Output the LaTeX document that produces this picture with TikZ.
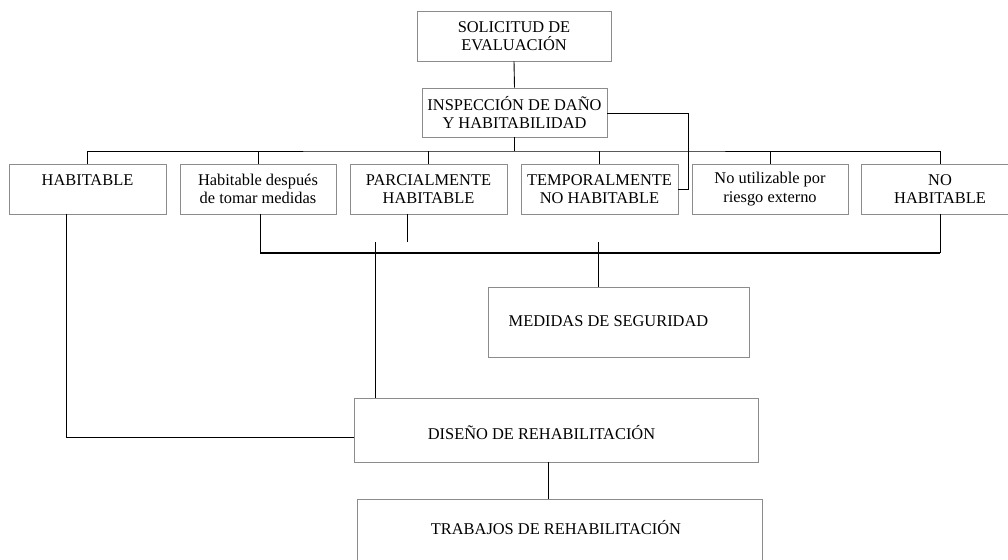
\documentclass[tikz,border=0pt]{standalone}
\usepackage{fontspec}
\setmainfont{Liberation Serif}
\begin{document}
\begin{tikzpicture}[x=1pt,y=-1pt,
  box/.style={draw=black!45,line width=0.9pt,rectangle,inner sep=0pt,align=center,
    font=\fontsize{16.4}{18.5}\selectfont},
  lbox/.style={draw=black!45,line width=0.9pt,rectangle,inner sep=0pt},
  conn/.style={draw=black,line width=0.9pt},
  bold/.style={draw=black,line width=2pt},
  ltext/.style={inner sep=0pt,font=\fontsize{16.4}{18}\selectfont}]
\useasboundingbox (0,0) rectangle (1008,559);
% top boxes
\node[box,minimum width=194pt,minimum height=50pt] (sol) at (514,36) {SOLICITUD DE\\EVALUACIÓN};
\node[box,minimum width=185pt,minimum height=49pt] (ins) at (514.5,112.5) {INSPECCIÓN DE DAÑO\\Y HABITABILIDAD};
% row
\node[box,minimum width=157pt,minimum height=50pt] (b1) at (87.5,189) {HABITABLE\\\mbox{}};
\node[box,minimum width=156pt,minimum height=50pt] (b2) at (258,189) {Habitable después\\de tomar medidas};
\node[box,minimum width=157pt,minimum height=50pt] (b3) at (428.5,189) {PARCIALMENTE\\HABITABLE};
\node[box,minimum width=157pt,minimum height=50pt] (b4) at (599.5,189) {TEMPORALMENTE\\NO HABITABLE};
\node[box,minimum width=156pt,minimum height=50pt] (b5) at (770,189) {No utilizable por\\riesgo externo};
\node[box,minimum width=157pt,minimum height=50pt] (b6) at (940,189) {NO\\HABITABLE};
% lower boxes
\node[lbox,minimum width=261pt,minimum height=70pt] (med) at (618.5,322) {};
\node[ltext] (medt) at (608.5,321) {MEDIDAS DE SEGURIDAD};
\node[lbox,minimum width=404pt,minimum height=64pt] (dis) at (556,430) {};
\node[ltext] (dist) at (541.5,433) {DISEÑO DE REHABILITACIÓN};
\node[lbox,minimum width=405pt,minimum height=70pt] (tra) at (559.5,534) {};
\node[ltext] (trat) at (556,528) {TRABAJOS DE REHABILITACIÓN};
% connectors
\draw[conn] (sol.south) -- (ins.north);
\coordinate (bus) at (514.5,151);
\draw[conn] (ins.south) -- (bus);
\draw[conn] (b1.north) |- (bus) -| (b6.north);
\foreach \b in {b2,b3,b4,b5} \draw[conn] (bus -| \b.north) -- (\b.north);
\draw[conn] (ins.east |- 0,113) -| (688,189) -- (b4.east);
% HABITABLE to DISEÑO
\draw[conn] ([xshift=-21.5pt]b1.south) |- (dis.west |- 0,437);
% bold bus
\coordinate (bb) at (598,253);
\draw[conn] ([xshift=2pt]b2.south) -- ([xshift=2pt]b2.south |- bb);
\draw[conn] (b6.south) -- (b6.south |- bb);
\draw[bold] ([xshift=2pt]b2.south |- bb) -- (b6.south |- bb);
% PARCIALMENTE stub
\coordinate (pstub) at (407,242);
\draw[conn] ([xshift=-21.5pt]b3.south) -- (pstub);
% line to DISEÑO
\coordinate (dtop) at (375,242);
\draw[conn] (dtop) -- (dtop |- dis.north);
% drop to MEDIDAS
\coordinate (mtop) at (598,242);
\draw[conn] (mtop) -- (mtop |- med.north);
\draw[conn] ([xshift=-8pt]dis.south) -- ([xshift=-11.5pt]tra.north);
\end{tikzpicture}
\end{document}
